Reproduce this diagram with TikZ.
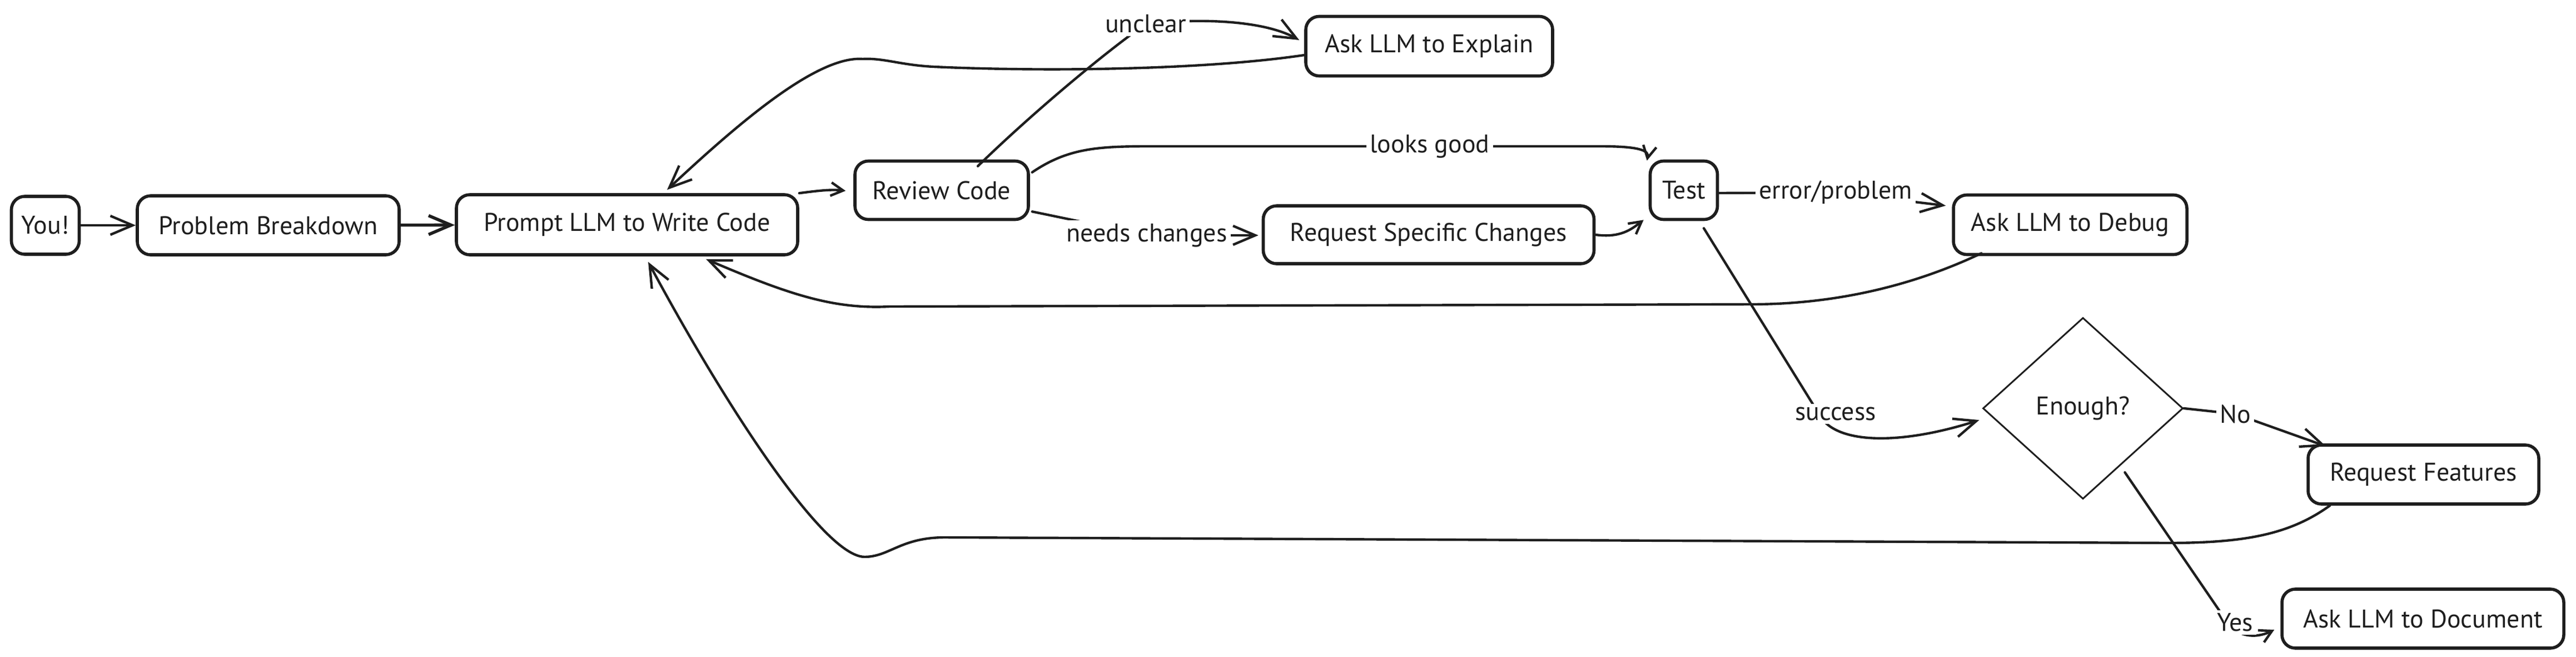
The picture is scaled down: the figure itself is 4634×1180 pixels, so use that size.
\documentclass[tikz,border=0pt]{standalone}
\usepackage{fontspec}
\setmainfont{PT Sans}
\usetikzlibrary{arrows.meta,calc,shapes.geometric}
\definecolor{ink}{HTML}{1E1E1E}
\begin{document}
\begin{tikzpicture}[x=0.5pt,y=-0.5pt,
  txt/.style={text=ink, font=\fontsize{23}{27}\selectfont},
  box/.style={txt, draw=ink, line width=2.8pt, rounded corners=12pt, inner sep=0pt},
  lbl/.style={txt, fill=white, inner sep=3pt},
  arr/.style={draw=ink, line width=2.2pt, line cap=round,
    -{Straight Barb[length=20pt,width=17pt]}},
  smallarr/.style={draw=ink, line width=2.2pt, line cap=round,
    -{Straight Barb[length=11pt,width=12pt]}}]
\fill[white] (0,0) rectangle (4634,1180);
\useasboundingbox (0,0) rectangle (4634,1180);

% nodes
\node[box, minimum width=61pt, minimum height=52pt] (you) at (81.5,405) {You!};
\node[box, minimum width=235.5pt, minimum height=53pt] (pb) at (482.5,405) {Problem Breakdown};
\node[box, minimum width=307pt, minimum height=54pt] (prompt) at (1128,404) {Prompt LLM to Write Code};
\node[box, minimum width=156pt, minimum height=52.5pt] (review) at (1694,342) {Review Code};
\node[box, minimum width=222pt, minimum height=53.5pt] (explain) at (2571,83) {Ask LLM to Explain};
\node[box, minimum width=297.5pt, minimum height=52pt] (rsc) at (2570,422) {Request Specific Changes};
\node[box, minimum width=60.5pt, minimum height=52.5pt] (test) at (3029,342) {Test};
\node[box, minimum width=210pt, minimum height=53.5pt] (debug) at (3724,404) {Ask LLM to Debug};
\node[txt, draw=ink, line width=1.5pt, diamond, inner sep=0pt,
      minimum width=180pt, minimum height=163pt] (enough) at (3747,734) {Enough?};
\node[box, minimum width=207.5pt, minimum height=53pt] (features) at (4359.5,853) {Request Features};
\node[box, minimum width=253.5pt, minimum height=53pt] (document) at (4358.5,1112) {Ask LLM to Document};

% connectors
\draw[arr] (you) -- (pb);
\draw[arr, line width=2.8pt] (pb) -- (prompt);
\draw[smallarr] (prompt.north east) .. controls (1470,343) and (1495,340) .. ($(review.west)+(-14,1)$);

\draw[arr] ($(review.north)+(65,12)$) .. controls (1850,210) and (1980,100) .. (2061,43)
  node[lbl]{unclear} .. controls (2150,33) and (2270,35) .. ($(explain.west)+(-9,-11)$);

\draw[arr] ($(explain.west)+(0,16)$) .. controls (2150,128) and (1850,128) .. (1680,120)
  .. controls (1620,117) and (1590,104) .. (1552,106)
  .. controls (1470,100) and (1330,220) .. ($(prompt.north)+(72,-6)$);

\draw[smallarr] ($(review.north east)+(4,23)$) .. controls (1930,260) and (1990,263) .. (2110,263)
  -- node[lbl, pos=0.6]{looks good} (2880,263)
  .. controls (2955,263) and (2966,272) .. ($(test.north west)+(-3,2)$);

\draw[arr] ($(review.south east)+(4,-17)$) -- (2063,423) node[lbl]{needs changes}
  -- ($(rsc.west)+(-6,1)$);

\draw[smallarr] (rsc.east) .. controls (2915,428) and (2935,412) .. ($(test.south west)+(-9,-2)$);

\draw[arr] ($(test.east)+(0,5)$) -- (3302,346) node[lbl]{error/problem}
  -- ($(debug.north west)+(-11,22)$);

\draw[arr] ($(debug.south west)+(53,-5)$) .. controls (3470,500) and (3330,547) .. (3150,547)
  -- (1600,551) .. controls (1500,556) and (1420,530) .. ($(prompt.south)+(142,5)$);

\draw[arr] ($(test.south)+(36,13)$) -- (3272,744) node[lbl, xshift=15pt]{success}
  .. controls (3300,800) and (3420,800) .. ($(enough.west)+(-5,21)$);

\draw[arr] (enough.east) -- (4021,744) node[lbl]{No} -- ($(features.north west)+(35,5)$);

\draw[arr] ($(features.south west)+(42,0)$) .. controls (4120,960) and (4040,976) .. (3900,976)
  -- (1700,966) .. controls (1620,966) and (1600,1001) .. (1555,1001)
  .. controls (1480,1000) and (1300,720) .. ($(prompt.south)+(38,10)$);

\draw[smallarr] ($(enough.east)!0.7!(enough.south)+(21,0)$) -- (4007,1119) node[lbl, xshift=7pt]{Yes}
  .. controls (4030,1150) and (4065,1145) .. ($(document.west)+(-11,20)$);
\end{tikzpicture}
\end{document}
